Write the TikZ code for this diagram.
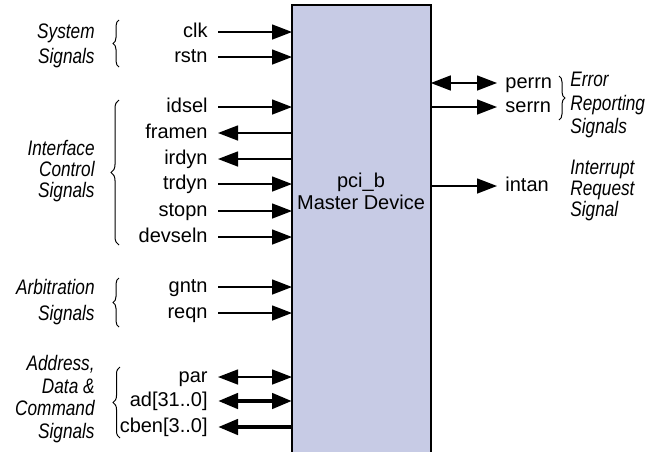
\documentclass[tikz,border=0pt]{standalone}
\usepackage{fontspec}
\setmainfont{Liberation Sans}
\newfontfamily\grpfont{Liberation Sans}[FakeStretch=0.82]
\usetikzlibrary{arrows.meta,decorations.pathreplacing}
\definecolor{devfill}{RGB}{199,203,229}

\begin{document}
\begin{tikzpicture}[x=0.5pt,y=-0.5pt,
  sighead/.tip={Triangle[length=10pt,width=7.5pt]},
  sig/.style={font=\fontsize{10}{12}\selectfont, inner sep=0pt, text height=5pt, text depth=0pt},
  lsig/.style={sig, anchor=east},
  rsig/.style={sig, anchor=west},
  grp/.style={font=\grpfont\itshape\fontsize{10.5}{#1}\selectfont, inner sep=0pt},
  wire/.style={line width=0.7pt},
  bus/.style={line width=2.2pt},
  brc/.style={decorate, decoration={brace, amplitude=#1}, line width=0.5pt},
]
\useasboundingbox (0,0) rectangle (653,451);
\fill[white] (0,0) rectangle (653,451);
\clip (0,0) rectangle (653,451);

% the device block (open at the bottom edge)
\node[fill=devfill, minimum width=69pt, minimum height=235pt, inner sep=0pt,
      anchor=north west] (dev) at (292,5) {};
\draw[line width=0.8pt] (dev.south west) -- (dev.north west) -- (dev.north east) -- (dev.south east);
\node[font=\fontsize{10}{11}\selectfont, align=center, inner sep=0pt] (title) at (361,191)
  {pci\_b\\Master Device};

% inputs on the left side
\foreach \name/\yy in {clk/32, rstn/57, idsel/107, trdyn/184, stopn/211,
                       devseln/237, gntn/287, reqn/313} {
  \node[lsig] (\name) at (208,\yy) {\name};
  \draw[wire,-sighead] ([xshift=5pt]\name.east) -- (\name.east -| dev.west);
}

% outputs on the left side
\foreach \name/\yy in {framen/133, irdyn/159} {
  \node[lsig] (\name) at (208,\yy) {\name};
  \draw[wire,sighead-] ([xshift=5pt]\name.east) -- (\name.east -| dev.west);
}

% address / data / command
\node[lsig] (par) at (208,377) {par};
\draw[wire,sighead-sighead] ([xshift=5pt]par.east) -- (par.east -| dev.west);
\node[lsig] (ad) at (208,401) {ad[31..0]};
\draw[bus,sighead-sighead] ([xshift=5pt]ad.east) -- (ad.east -| dev.west);
\node[lsig] (cben) at (208,427) {cben[3..0]};
\draw[bus,sighead-] ([xshift=5pt]cben.east) -- (cben.east -| dev.west);

% right side
\node[rsig] (perrn) at (505,83) {perrn};
\draw[wire,sighead-sighead] (perrn.west -| dev.east) -- ([xshift=-4pt]perrn.west);
\node[rsig] (serrn) at (505,107) {serrn};
\draw[wire,-sighead] (serrn.west -| dev.east) -- ([xshift=-4pt]serrn.west);
\node[rsig] (intan) at (505,186) {intan};
\draw[wire,-sighead] (intan.west -| dev.east) -- ([xshift=-4pt]intan.west);

% group braces
\draw[brc=3pt] (119,67) -- (119,20);
\draw[brc=4pt] (119,245) -- (119,100);
\draw[brc=3pt] (119,327) -- (119,278);
\draw[brc=3.5pt] (120,438) -- (120,367);
\draw[brc=3pt] (559,76) -- (559,120);

% group names
\node[grp=12.5pt, anchor=east, align=right] (gsys) at (95,46) {System\\Signals};
\node[grp=10.5pt, anchor=east, align=right] (gifc) at (95,171) {Interface\\Control\\Signals};
\node[grp=13pt, anchor=east, align=right] (garb) at (95,302) {Arbitration\\Signals};
\node[grp=11.2pt, anchor=east, align=right] (gadr) at (95,399) {Address,\\Data \&\\Command\\Signals};
\node[grp=11.7pt, anchor=west, align=left] (gerr) at (570,105) {Error\\Reporting\\Signals};
\node[grp=10.5pt, anchor=west, align=left] (gint) at (570,190) {Interrupt\\Request\\Signal};
\end{tikzpicture}
\end{document}
